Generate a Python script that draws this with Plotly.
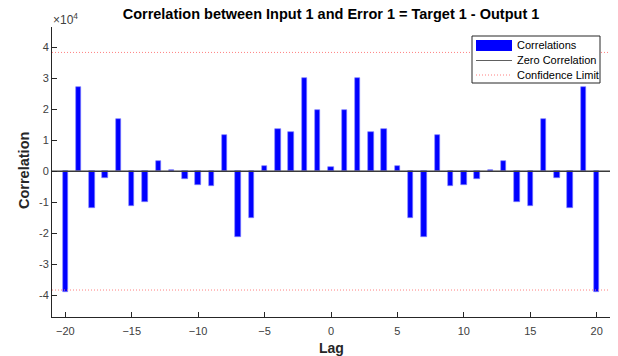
import plotly.graph_objects as go

# Cross-correlation between input and error, lags -20..20
lags = list(range(-20, 21))
half = [0.15, 1.99, 3.01, 1.27, 1.36, 0.18, -1.52, -2.13, 1.16, -0.48, -0.44,
        -0.24, 0.04, 0.32, -0.98, -1.11, 1.70, -0.22, -1.17, 2.72, -3.89]  # lags 0..20, x1e4
corr = [v * 1e4 for v in half[:0:-1] + half]
conf_limit = 3.83e4

ytick_vals = [-4e4, -3e4, -2e4, -1e4, 0, 1e4, 2e4, 3e4, 4e4]
ytick_text = ["-4", "-3", "-2", "-1", "0", "1", "2", "3", "4"]
xtick_vals = [-20, -15, -10, -5, 0, 5, 10, 15, 20]

W, H = 618, 356
L, R, T, B = 52, 8, 27, 39
pw, ph = W - L - R, H - T - B

def px(x):
    return (x - L) / pw

def py(y):
    return (H - B - y) / ph

axis_col = "#262626"
tick_col = "#404040"
conf_col = "#ff8080"
font = "Arial, Liberation Sans, Helvetica, sans-serif"

fig = go.Figure()
fig.add_trace(go.Bar(x=lags, y=corr, width=0.4, marker=dict(color="#0000ff",
                     line=dict(color="#7f7fff", width=0.6)), name="Correlations"))
fig.add_trace(go.Scatter(x=[-21, 21], y=[0, 0], mode="lines",
                         line=dict(color="#3a3a3a", width=1.6), name="Zero Correlation"))
for s in (1, -1):
    fig.add_trace(go.Scatter(x=[-21, 21], y=[s * conf_limit] * 2, mode="lines",
                             line=dict(color=conf_col, width=1, dash="1px,2px"),
                             name="Confidence Limit"))

shapes = []
annotations = []
# legend box
shapes.append(dict(type="rect", xref="paper", yref="paper", x0=px(472), x1=px(600),
                   y0=py(83), y1=py(36), line=dict(color="#262626", width=1),
                   fillcolor="white", layer="above"))
shapes.append(dict(type="rect", xref="paper", yref="paper", x0=px(476), x1=px(512),
                   y0=py(51), y1=py(40), line=dict(width=0), fillcolor="#0000ff", layer="above"))
shapes.append(dict(type="line", xref="paper", yref="paper", x0=px(476), x1=px(512),
                   y0=py(60.5), y1=py(60.5), line=dict(color="#606060", width=1.2), layer="above"))
shapes.append(dict(type="line", xref="paper", yref="paper", x0=px(476), x1=px(512),
                   y0=py(75), y1=py(75), line=dict(color=conf_col, width=1, dash="1px,2px"),
                   layer="above"))
for label, yy in (("Correlations", 45.5), ("Zero Correlation", 60.5), ("Confidence Limit", 75)):
    annotations.append(dict(text=label, xref="paper", yref="paper", x=px(515), y=py(yy),
                            xanchor="left", yanchor="middle", showarrow=False,
                            font=dict(size=11, color="#000000", family=font)))
# exponent label
annotations.append(dict(text="×10<sup>4</sup>", xref="paper", yref="paper", x=px(51), y=py(19),
                        xanchor="left", yanchor="middle", showarrow=False,
                        font=dict(size=12, color=tick_col, family=font)))
# axis titles
annotations.append(dict(text="<b>Lag</b>", xref="paper", yref="paper", x=px(331), y=py(348),
                        xanchor="center", yanchor="middle", showarrow=False,
                        font=dict(size=14, color=axis_col, family=font)))
annotations.append(dict(text="<b>Correlation</b>", xref="paper", yref="paper", x=px(24), y=py(171),
                        xanchor="center", yanchor="middle", showarrow=False, textangle=-90,
                        font=dict(size=14.5, color=axis_col, family=font)))

fig.update_layout(
    width=W, height=H,
    margin=dict(l=L, r=R, t=T, b=B),
    paper_bgcolor="white", plot_bgcolor="white",
    showlegend=False, bargap=0,
    title=dict(text="<b>Correlation between Input 1 and Error 1 = Target 1 - Output 1</b>",
               x=px(331), xref="paper", xanchor="center", y=1 - 14 / H, yanchor="middle",
               font=dict(size=14.5, color="#000000", family=font)),
    xaxis=dict(range=[-21, 21], tickvals=xtick_vals, ticks="inside", ticklen=5,
               tickcolor=axis_col, showline=True, linecolor=axis_col, linewidth=1,
               showgrid=False, zeroline=False, mirror=False, ticklabelstandoff=4,
               automargin=False,
               tickfont=dict(size=11, color=tick_col, family=font)),
    yaxis=dict(range=[-4.7e4, 4.65e4], tickvals=ytick_vals, ticktext=ytick_text,
               ticks="inside", ticklen=5, tickcolor=axis_col, showline=True,
               linecolor=axis_col, linewidth=1, showgrid=False, zeroline=False,
               automargin=False,
               tickfont=dict(size=11, color=tick_col, family=font)),
    shapes=shapes, annotations=annotations,
)

fig.write_html("out.html")
